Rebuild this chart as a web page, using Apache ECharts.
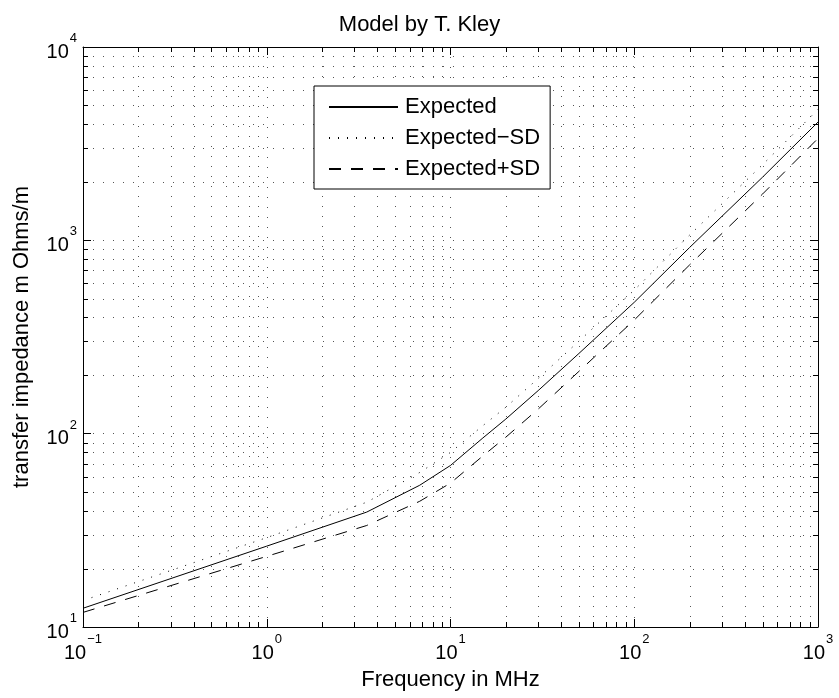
<!DOCTYPE html>
<html><head><meta charset="utf-8">
<script src="https://cdn.jsdelivr.net/npm/echarts@6/dist/echarts.min.js"></script>
<style>html,body{margin:0;padding:0;background:#fff;} #c{width:839px;height:698px;}</style>
</head><body><div id="c"></div>
<script>
// Data (log-log)
const freq = [0.1, 1, 3.5, 6.8, 10, 15, 20, 30, 50, 100, 200, 500, 1000];
const expected = [12.5, 26.2, 39.3, 54.1, 68.5, 95, 119, 167, 260, 478, 918, 2125, 4090];
const expectedMinusSD = [13.7, 29.0, 44.2, 63, 80, 110, 137, 193, 301, 553, 1064, 2466, 4753];
const expectedPlusSD = [11.9, 23.2, 33.5, 44.7, 55.5, 76.7, 95.9, 134, 210, 387, 746, 1738, 3365];
const seriesNames = ['Expected', 'Expected\u2212SD', 'Expected+SD'];
const xDecades = [0.1, 1, 10, 100];
const yDecades = [10, 100, 1000];
const minorMantissas = [2, 3, 4, 5, 6, 7, 8, 9];
const X_MIN = 0.1, X_MAX = 1000, Y_MIN = 10, Y_MAX = 10000;

const xMinor = [];
xDecades.forEach(d => minorMantissas.forEach(m => xMinor.push([+(d * m).toPrecision(6), Y_MIN])));
const yMinor = [];
yDecades.forEach(d => minorMantissas.forEach(m => yMinor.push([X_MIN, +(d * m).toPrecision(6)])));

const FONT = '"Liberation Sans", Arial, Helvetica, sans-serif';
const GRID_DOT = {color: '#555', width: 1, type: [1, 9]};

function fmt(v) {
  const e = Math.round(Math.log10(v));
  const es = e < 0 ? '\u2212' + (-e) : String(e);
  return '{b|10}{s|' + es + '}';
}
const richLabel = {
  b: {fontSize: 20, fontFamily: FONT, color: '#000', lineHeight: 30, verticalAlign: 'bottom'},
  s: {fontSize: 13, fontFamily: FONT, color: '#000', lineHeight: 30, verticalAlign: 'top', padding: [0, 0, 0, 1]}
};

function crisp(v) { return Math.round(v) + 0.5; }

function minorX(params, api) {
  const v = api.value(0);
  const p0 = api.coord([v, Y_MIN]);
  const p1 = api.coord([v, Y_MAX]);
  const x = crisp(p0[0]);
  return {type: 'group', children: [
    {type: 'line', shape: {x1: x, y1: p0[1], x2: x, y2: p1[1]}, style: {stroke: GRID_DOT.color, lineWidth: 1, lineDash: [1, 9]}},
    {type: 'line', shape: {x1: x, y1: p0[1], x2: x, y2: p0[1] - 5}, style: {stroke: '#000', lineWidth: 1}},
    {type: 'line', shape: {x1: x, y1: p1[1], x2: x, y2: p1[1] + 5}, style: {stroke: '#000', lineWidth: 1}}
  ]};
}
function minorY(params, api) {
  const v = api.value(1);
  const p0 = api.coord([X_MIN, v]);
  const p1 = api.coord([X_MAX, v]);
  const y = crisp(p0[1]);
  return {type: 'group', children: [
    {type: 'line', shape: {x1: p0[0], y1: y, x2: p1[0], y2: y}, style: {stroke: GRID_DOT.color, lineWidth: 1, lineDash: [1, 9]}},
    {type: 'line', shape: {x1: p0[0], y1: y, x2: p0[0] + 5, y2: y}, style: {stroke: '#000', lineWidth: 1}},
    {type: 'line', shape: {x1: p1[0], y1: y, x2: p1[0] - 5, y2: y}, style: {stroke: '#000', lineWidth: 1}}
  ]};
}

const axisCommon = {
  type: 'log', logBase: 10,
  axisLine: {show: true, onZero: false, lineStyle: {color: '#000', width: 1}},
  axisTick: {show: true, inside: true, length: 8, lineStyle: {color: '#000', width: 1}},
};

const chart = echarts.init(document.getElementById('c'), null, {renderer: 'canvas'});
chart.setOption({
  animation: false,
  backgroundColor: '#fff',
  textStyle: {fontFamily: FONT},
  title: {
    text: 'Model by T. Kley', left: 'center', top: 9,
    textStyle: {fontFamily: FONT, fontSize: 22, fontWeight: 'normal', color: '#000'}
  },
  grid: {left: 83, right: 21, top: 47, bottom: 71, containLabel: false},
  legend: {
    data: seriesNames, orient: 'vertical', left: 314, top: 86,
    backgroundColor: '#fff', borderColor: '#000', borderWidth: 1,
    padding: [9, 10, 8, 14], itemGap: 7, itemWidth: 69, itemHeight: 14,
    itemStyle: {opacity: 0},
    textStyle: {fontFamily: FONT, fontSize: 22, color: '#000', lineHeight: 24, padding: [0, 0, 0, 2]}
  },
  xAxis: [
    Object.assign({}, axisCommon, {
      min: X_MIN, max: X_MAX, position: 'bottom',
      name: 'Frequency in MHz', nameLocation: 'middle', nameGap: 42,
      nameTextStyle: {fontFamily: FONT, fontSize: 22, color: '#000'},
      axisLabel: {show: true, margin: 6, formatter: fmt, rich: richLabel},
      splitLine: {show: true, lineStyle: GRID_DOT}
    }),
    Object.assign({}, axisCommon, {
      min: X_MIN, max: X_MAX, position: 'top',
      axisLabel: {show: false}, splitLine: {show: false}
    })
  ],
  yAxis: [
    Object.assign({}, axisCommon, {
      min: Y_MIN, max: Y_MAX, position: 'left',
      name: 'transfer impedance m Ohms/m', nameLocation: 'middle', nameGap: 50,
      nameTextStyle: {fontFamily: FONT, fontSize: 22, color: '#000'},
      axisLabel: {show: true, margin: 6, formatter: fmt, rich: richLabel},
      splitLine: {show: true, lineStyle: GRID_DOT}
    }),
    Object.assign({}, axisCommon, {
      min: Y_MIN, max: Y_MAX, position: 'right',
      axisLabel: {show: false}, splitLine: {show: false}
    })
  ],
  series: [
    {type: 'custom', name: 'minorX', xAxisIndex: 0, yAxisIndex: 0, data: xMinor, renderItem: minorX, silent: true, z: 1},
    {type: 'custom', name: 'minorY', xAxisIndex: 0, yAxisIndex: 0, data: yMinor, renderItem: minorY, silent: true, z: 1},
    {type: 'line', name: seriesNames[0], data: freq.map((f, i) => [f, expected[i]]),
      symbol: 'none', lineStyle: {color: '#000', width: 1, type: 'solid'}, itemStyle: {color: '#000'}, z: 3},
    {type: 'line', name: seriesNames[1], data: freq.map((f, i) => [f, expectedMinusSD[i]]),
      symbol: 'none', lineStyle: {color: '#000', width: 1, type: [1, 8]}, itemStyle: {color: '#000'}, z: 3},
    {type: 'line', name: seriesNames[2], data: freq.map((f, i) => [f, expectedPlusSD[i]]),
      symbol: 'none', lineStyle: {color: '#000', width: 1, type: [12, 10]}, itemStyle: {color: '#000'}, z: 3}
  ]
});
</script>
</body></html>
